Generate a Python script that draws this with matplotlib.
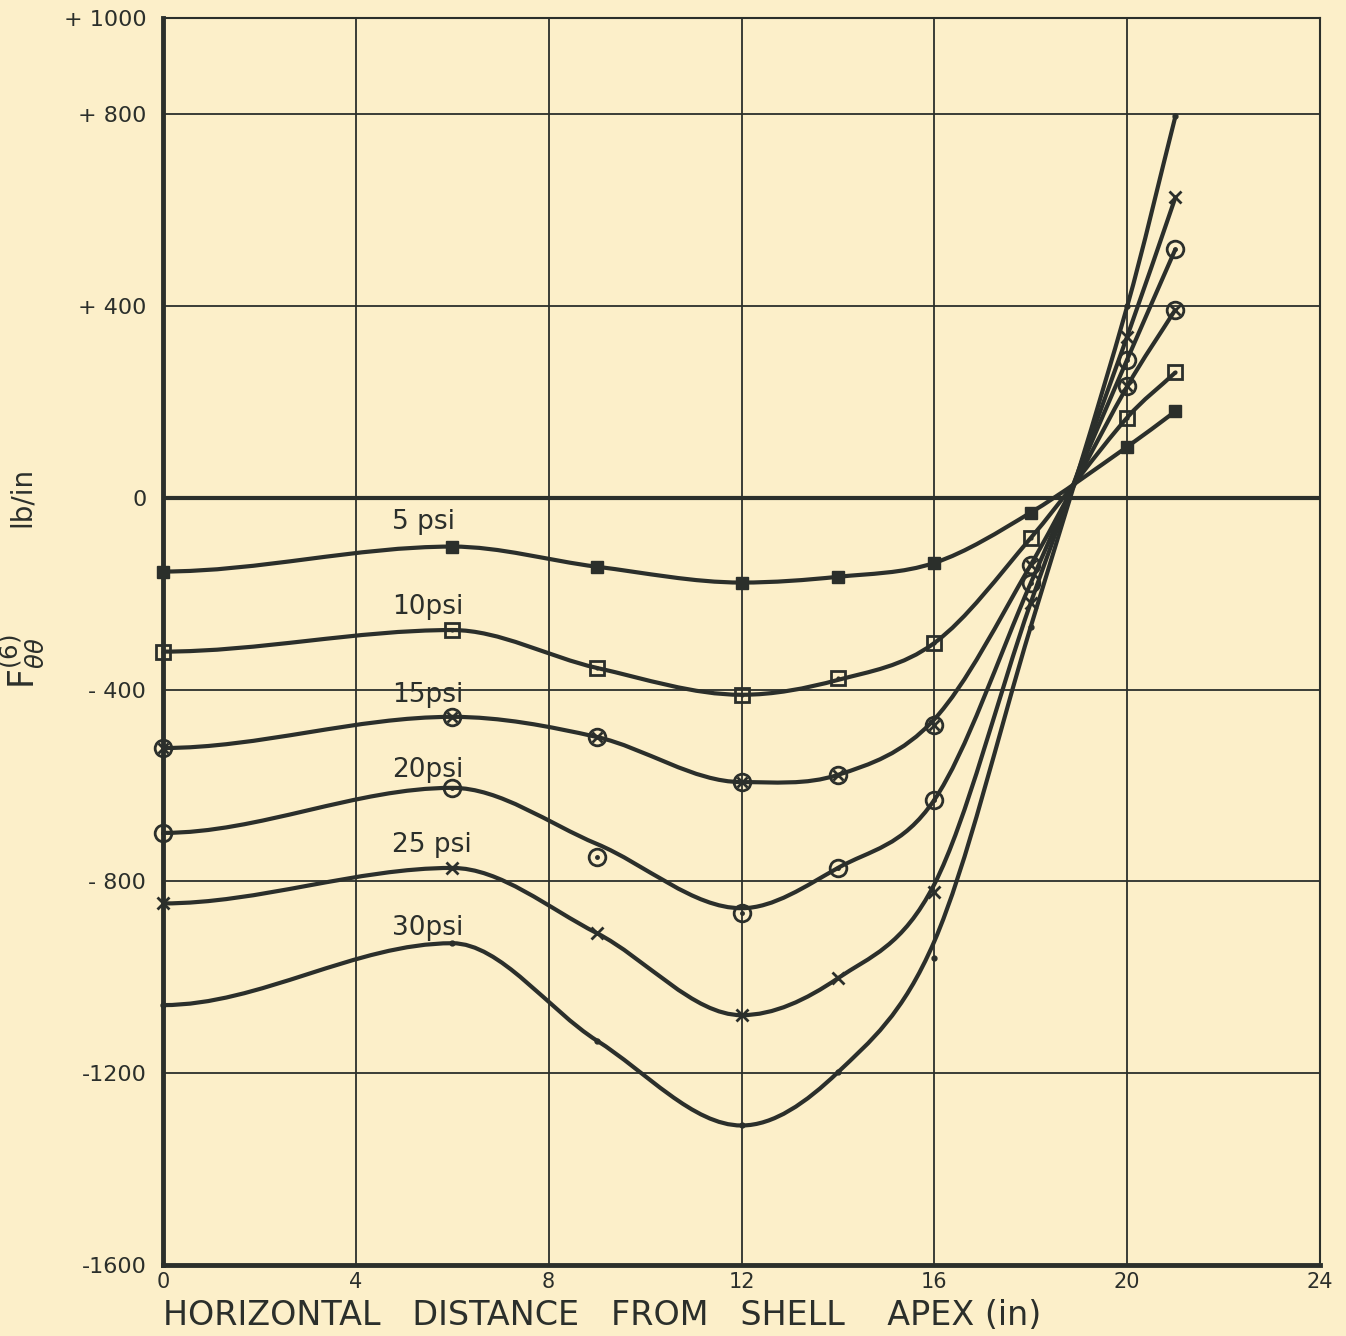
import numpy as np
import matplotlib.pyplot as plt
from matplotlib.path import Path
from matplotlib.patches import PathPatch

# horizontal distance from shell apex (in), where points were plotted
x_in = [0, 6, 9, 12, 14, 16, 18, 20, 21]

# plotted points, F_theta_theta (lb/in) for each pressure
f_5psi = [-154, -102, -144, -177, -165, -136, -31, 106, 180]
f_10psi = [-321, -276, -355, -411, -376, -303, -84, 167, 261]
f_15psi = [-522, -457, -499, -593, -578, -474, -140, 232, 392]
f_20psi = [-699, -605, -749, -866, -772, -630, -178, 288, 518]
f_25psi = [-846, -772, -908, -1079, -1002, -822, -219, 336, 626]
f_30psi = [-1058, -929, -1132, -1309, -1198, -960, -269, 399, 795]

# the faired (hand drawn) curves, read at the same x; they miss a few points
c_5psi = [-154, -102, -144, -177, -165, -136, -31, 106, 180]
c_10psi = [-321, -276, -355, -411, -380, -303, -84, 167, 261]
c_15psi = [-522, -457, -499, -593, -578, -462, -140, 232, 392]
c_20psi = [-699, -605, -722, -856, -772, -630, -178, 288, 518]
c_25psi = [-846, -772, -908, -1079, -1002, -806, -219, 336, 626]
c_30psi = [-1058, -929, -1132, -1309, -1198, -925, -269, 399, 795]

labels = ["5 psi", "10psi", "15psi", "20psi", "25 psi", "30psi"]

x_ticks = [0, 4, 8, 12, 16, 20, 24]
y_ticks = [-1600, -1200, -800, -400, 0, 400, 800, 1000]
y_ticklabels = ["-1600", "-1200", "- 800", "- 400", "0", "+ 400", "+ 800", "+ 1000"]

bg = "#fcefc9"
ink = "#2b2f2b"


def smooth_path(x, y):
    # bezier pieces with catmull-rom tangents, flat at peaks/troughs
    # and at the apex (x=0)
    x = np.asarray(x, float)
    y = np.asarray(y, float)
    m = np.zeros_like(y)
    for i in range(1, len(y) - 1):
        if (y[i] - y[i - 1]) * (y[i + 1] - y[i]) > 0:
            m[i] = (y[i + 1] - y[i - 1]) / (x[i + 1] - x[i - 1])
    m[-1] = (y[-1] - y[-2]) / (x[-1] - x[-2])
    verts = [(x[0], y[0])]
    codes = [Path.MOVETO]
    for i in range(len(x) - 1):
        dx = (x[i + 1] - x[i]) / 3.0
        verts += [(x[i] + dx, y[i] + dx * m[i]),
                  (x[i + 1] - dx, y[i + 1] - dx * m[i + 1]),
                  (x[i + 1], y[i + 1])]
        codes += [Path.CURVE4] * 3
    return Path(verts, codes)


fig = plt.figure(figsize=(13.46, 13.36), dpi=100, facecolor=bg)
ax = fig.add_axes([0.1211, 0.0531, 0.8596, 0.9334])
ax.set_facecolor(bg)

ax.set_xlim(0, 24)
ax.set_ylim(-1600, 1000)

# grid
for xv in x_ticks:
    ax.axvline(xv, color=ink, lw=1.3, zorder=1)
for yv in y_ticks:
    ax.axhline(yv, color=ink, lw=1.3, zorder=1)
ax.axhline(0, color=ink, lw=3.0, zorder=1)

for s in ax.spines.values():
    s.set_color(ink)
    s.set_linewidth(1.5)
ax.spines["left"].set_linewidth(3.5)
ax.spines["bottom"].set_linewidth(3.5)

curves = [c_5psi, c_10psi, c_15psi, c_20psi, c_25psi, c_30psi]
for ys in curves:
    ax.add_patch(PathPatch(smooth_path(x_in, ys), fc="none", ec=ink, lw=3.0, zorder=3))

# markers (not clipped, the x=0 ones sit on the axis)
mk = dict(zorder=4, clip_on=False)
ax.plot(x_in, f_5psi, "s", ms=9, mfc=ink, mec=ink, **mk)
ax.plot(x_in, f_10psi, "s", ms=10, mfc="none", mec=ink, mew=2, **mk)
ax.plot(x_in, f_10psi, ".", ms=4, color=ink, **mk)
ax.plot(x_in, f_15psi, "o", ms=12, mfc="none", mec=ink, mew=2, **mk)
ax.plot(x_in, f_15psi, "x", ms=7, color=ink, mew=2, **mk)
ax.plot(x_in, f_20psi, "o", ms=12, mfc="none", mec=ink, mew=2, **mk)
ax.plot(x_in, f_20psi, ".", ms=5, color=ink, **mk)
ax.plot(x_in, f_25psi, "x", ms=9, color=ink, mew=2, **mk)
ax.plot(x_in, f_30psi, ".", ms=7, color=ink, **mk)

# curve labels
label_y = [-50, -228, -411, -568, -724, -898]
for lab, ly in zip(labels, label_y):
    ax.text(4.75, ly, lab, fontsize=19, color=ink, ha="left", va="center")

ax.set_xticks(x_ticks)
ax.set_yticks(y_ticks)
ax.set_yticklabels(y_ticklabels)
ax.tick_params(length=0, labelsize=16, colors=ink)
ax.tick_params(axis="x", pad=5, labelsize=15)
ax.tick_params(axis="y", pad=12)

ax.set_xlabel("HORIZONTAL   DISTANCE   FROM   SHELL    APEX (in)",
              fontsize=24, color=ink, ha="left")
ax.xaxis.set_label_coords(0.0, -0.027)

fig.text(0.017, 0.505, r"$\mathrm{F}_{\theta\theta}^{(6)}$", rotation=90, fontsize=25,
         color=ink, ha="center", va="center")
fig.text(0.016, 0.628, "lb/in", rotation=90, fontsize=20, color=ink,
         ha="center", va="center")

fig.savefig("out.png", dpi=100, facecolor=bg)
